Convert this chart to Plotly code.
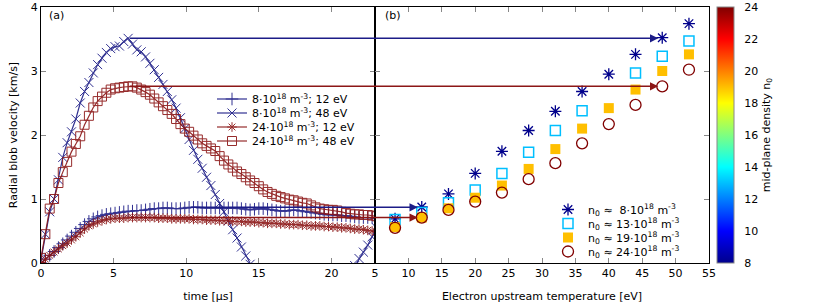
import plotly.graph_objects as go
from plotly.subplots import make_subplots

# ---------------- data: panel (a) ----------------
t_us = [0.0, 0.3, 0.6, 0.9, 1.2, 1.5, 1.8, 2.1, 2.4, 2.7,
        3.0, 3.3, 3.6, 3.9, 4.2, 4.5, 4.8, 5.1, 5.4, 5.7,
        6.0, 6.3, 6.6, 6.9, 7.2, 7.5, 7.8, 8.1, 8.4, 8.7,
        9.0, 9.3, 9.6, 9.9, 10.2, 10.5, 10.8, 11.1, 11.4, 11.7,
        12.0, 12.3, 12.6, 12.9, 13.2, 13.5, 13.8, 14.1, 14.4, 14.7,
        15.0, 15.3, 15.6, 15.9, 16.2, 16.5, 16.8, 17.1, 17.4, 17.7,
        18.0, 18.3, 18.6, 18.9, 19.2, 19.5, 19.8, 20.1, 20.4, 20.7,
        21.0, 21.3, 21.6, 21.9, 22.2, 22.5, 22.8, 23.1]

v_n8_12eV = [0.00, 0.06, 0.12, 0.18, 0.24, 0.30, 0.36, 0.42, 0.48, 0.54,
             0.60, 0.65, 0.69, 0.72, 0.74, 0.76, 0.77, 0.78, 0.79, 0.80,
             0.81, 0.81, 0.82, 0.82, 0.83, 0.84, 0.85, 0.85, 0.86, 0.86,
             0.85, 0.85, 0.85, 0.86, 0.87, 0.87, 0.87, 0.86, 0.86, 0.86,
             0.86, 0.86, 0.86, 0.86, 0.86, 0.86, 0.85, 0.84, 0.83, 0.84,
             0.85, 0.85, 0.84, 0.83, 0.82, 0.81, 0.81, 0.82, 0.83, 0.82,
             0.81, 0.80, 0.79, 0.78, 0.77, 0.76, 0.75, 0.75, 0.75, 0.74,
             0.74, 0.73, 0.72, 0.71, 0.71, 0.71, 0.71, 0.70]

v_n8_48eV = [0.05, 0.45, 0.80, 1.00, 1.30, 1.65, 1.88, 2.05, 2.25, 2.50,
             2.68, 2.82, 2.97, 3.10, 3.20, 3.29, 3.35, 3.38, 3.39, 3.46,
             3.51, 3.42, 3.33, 3.30, 3.22, 3.12, 3.02, 2.90, 2.79, 2.68,
             2.55, 2.42, 2.27, 2.10, 1.93, 1.76, 1.62, 1.48, 1.34, 1.21,
             1.07, 0.93, 0.80, 0.66, 0.52, 0.39, 0.25, 0.11, -0.02, -0.15,
             -0.28, -0.40, -0.52, -0.63, -0.73, -0.82, -0.90, -0.96, -1.00, -1.03,
             -1.04, -1.03, -1.00, -0.95, -0.88, -0.80, -0.71, -0.61, -0.50, -0.39,
             -0.27, -0.15, -0.04, 0.07, 0.17, 0.28, 0.41, 0.55]

v_n24_12eV = [0.00, 0.06, 0.12, 0.17, 0.22, 0.27, 0.31, 0.36, 0.41, 0.47,
              0.53, 0.58, 0.61, 0.64, 0.66, 0.68, 0.69, 0.70, 0.70, 0.70,
              0.71, 0.71, 0.71, 0.71, 0.71, 0.71, 0.71, 0.70, 0.70, 0.70,
              0.69, 0.69, 0.69, 0.69, 0.69, 0.68, 0.68, 0.68, 0.67, 0.67,
              0.67, 0.66, 0.66, 0.66, 0.65, 0.65, 0.65, 0.64, 0.64, 0.64,
              0.63, 0.63, 0.62, 0.62, 0.62, 0.61, 0.61, 0.60, 0.60, 0.60,
              0.59, 0.59, 0.58, 0.58, 0.58, 0.57, 0.57, 0.56, 0.56, 0.55,
              0.55, 0.54, 0.53, 0.53, 0.52, 0.51, 0.50, 0.49]

v_n24_48eV = [0.08, 0.45, 0.85, 1.00, 1.25, 1.42, 1.58, 1.74, 1.86, 1.98,
              2.16, 2.30, 2.43, 2.53, 2.60, 2.66, 2.71, 2.73, 2.74, 2.75,
              2.76, 2.76, 2.74, 2.71, 2.67, 2.63, 2.57, 2.51, 2.45, 2.39,
              2.33, 2.25, 2.17, 2.10, 2.05, 1.99, 1.93, 1.87, 1.83, 1.79,
              1.75, 1.67, 1.60, 1.54, 1.49, 1.43, 1.39, 1.34, 1.29, 1.25,
              1.20, 1.15, 1.11, 1.08, 1.05, 1.03, 1.01, 0.99, 0.98, 0.96,
              0.94, 0.93, 0.90, 0.87, 0.85, 0.84, 0.83, 0.83, 0.82, 0.80,
              0.78, 0.77, 0.76, 0.76, 0.75, 0.75, 0.74, 0.73]

# ---------------- data: panel (b) ----------------
Te_eV = [8, 12, 16, 20, 24, 28, 32, 36, 40, 44, 48, 52]
v_max_n8 = [0.69, 0.875, 1.08, 1.40, 1.745, 2.07, 2.37, 2.68, 2.95, 3.26, 3.52, 3.74]
v_max_n13 = [0.68, 0.79, 0.94, 1.14, 1.40, 1.73, 2.07, 2.38, None, 2.97, 3.23, 3.47]
v_max_n19 = [0.56, 0.71, 0.855, 1.02, 1.21, 1.47, 1.78, 2.10, 2.42, 2.71, 3.00, 3.26]
v_max_n24 = [0.55, 0.71, 0.83, 0.96, 1.10, 1.31, 1.56, 1.87, 2.17, 2.47, 2.76, 3.02]
n0_levels = [8, 13, 19, 24]

t_range = [0, 23]
Te_range = [5, 55]
v_range = [0, 4]
n0_range = [8, 24]

# ---------------- style ----------------
FONT = "DejaVu Sans"
BLUE = "rgb(28,28,135)"
RED = "rgb(140,22,22)"
W, H = 814, 305
ML, MR, MT, MB = 41, 105, 7, 42
PW, PH = W - ML - MR, H - MT - MB

jet = [[0.0, (0, 0, 140)], [0.125, (0, 0, 255)], [0.375, (0, 255, 255)],
       [0.625, (255, 255, 0)], [0.875, (255, 0, 0)], [1.0, (128, 0, 0)]]
jet_scale = [[s, "rgb(%d,%d,%d)" % c] for s, c in jet]


def jet_color(val):
    f = (val - n0_range[0]) / (n0_range[1] - n0_range[0])
    for (s0, c0), (s1, c1) in zip(jet[:-1], jet[1:]):
        if s0 <= f <= s1:
            w = (f - s0) / (s1 - s0)
            return "rgb(%d,%d,%d)" % tuple(round(a + (b - a) * w) for a, b in zip(c0, c1))
    return "rgb(%d,%d,%d)" % jet[-1][1]


fig = make_subplots(rows=1, cols=2, shared_yaxes=True, horizontal_spacing=0)


def legend_y(py):
    return 1 - (py - MT) / PH


def legend_x(px):
    return (px - ML) / PW


LEGFONT = dict(family=FONT, size=11, color="black")

left_series = [
    ("8·10<sup>18</sup> m<sup>-3</sup>; 12 eV", v_n8_12eV, BLUE, "cross-thin-open", 9),
    ("8·10<sup>18</sup> m<sup>-3</sup>; 48 eV", v_n8_48eV, BLUE, "x-thin-open", 9),
    ("24·10<sup>18</sup> m<sup>-3</sup>; 12 eV", v_n24_12eV, RED, "asterisk-open", 8),
    ("24·10<sup>18</sup> m<sup>-3</sup>; 48 eV", v_n24_48eV, RED, "square-open", 9),
]
left_rows = [99.0, 113.0, 127.0, 141.0]
for i, (name, vals, col, sym, sz) in enumerate(left_series):
    lg = "legend" if i == 0 else f"legend{i + 1}"
    fig.add_trace(go.Scatter(
        x=t_us, y=vals, name=name, mode="lines+markers",
        line=dict(color=col, width=1.2),
        marker=dict(symbol=sym, size=sz, color=col, line=dict(width=1, color=col)),
        legend=lg, opacity=0.9), row=1, col=1)
    fig.update_layout(**{lg: dict(
        x=legend_x(212), y=legend_y(left_rows[i]), xanchor="left", yanchor="middle",
        bgcolor="rgba(0,0,0,0)", borderwidth=0, itemwidth=30, font=LEGFONT)})

right_series = [
    ("n<sub>0</sub> ≈  8·10<sup>18</sup> m<sup>-3</sup>", v_max_n8, "asterisk-open", 10, 1.3),
    ("n<sub>0</sub> ≈ 13·10<sup>18</sup> m<sup>-3</sup>", v_max_n13, "square-open", 10, 1.5),
    ("n<sub>0</sub> ≈ 19·10<sup>18</sup> m<sup>-3</sup>", v_max_n19, "square", 10, 0),
    ("n<sub>0</sub> ≈ 24·10<sup>18</sup> m<sup>-3</sup>", v_max_n24, "circle-open", 11, 1.3),
]
right_rows = [209.5, 223.5, 237.5, 251.5]
for i, (name, vals, sym, sz, lw) in enumerate(right_series):
    lg = f"legend{i + 5}"
    col = jet_color(n0_levels[i])
    fig.add_trace(go.Scatter(
        x=Te_eV, y=vals, name=name, mode="markers",
        marker=dict(symbol=sym, size=sz, color=col, line=dict(width=lw, color=col)),
        legend=lg), row=1, col=2)
    fig.update_layout(**{lg: dict(
        x=legend_x(548), y=legend_y(right_rows[i]), xanchor="left", yanchor="middle",
        bgcolor="rgba(0,0,0,0)", borderwidth=0, itemwidth=30, font=LEGFONT)})

# invisible carrier of the n0 colour bar
fig.add_trace(go.Scatter(
    x=[None], y=[None], mode="markers", showlegend=False, hoverinfo="skip",
    marker=dict(color=n0_range, coloraxis="coloraxis")), row=1, col=2)


# arrows from peaks in panel (a) to the corresponding points in panel (b)
def t_to_Te(t):
    # both panels have the same pixel width
    return Te_range[0] + (t - t_range[1]) * (Te_range[1] - Te_range[0]) / (t_range[1] - t_range[0])


for vals, Te_target, col in [(v_n8_48eV, 48, BLUE), (v_n24_48eV, 48, RED),
                             (v_n8_12eV, 12, BLUE), (v_n24_12eV, 12, RED)]:
    vmax = max(vals)
    tpk = t_us[vals.index(vmax)]
    fig.add_annotation(x=Te_target, y=vmax, xref="x2", yref="y2",
                       ax=t_to_Te(tpk), ay=vmax, axref="x2", ayref="y2",
                       text="", showarrow=True, arrowhead=2, arrowsize=1.1,
                       arrowwidth=1.5, arrowcolor=col, standoff=4)

fig.add_annotation(text="(a)", x=0.018, y=0.965, xref="x domain", yref="y domain",
                   xanchor="left", yanchor="middle", showarrow=False, font=LEGFONT)
fig.add_annotation(text="(b)", x=0.024, y=0.965, xref="x2 domain", yref="y2 domain",
                   xanchor="left", yanchor="middle", showarrow=False, font=LEGFONT)

axis_common = dict(showline=True, linecolor="black", linewidth=1, mirror="ticks",
                   ticks="inside", ticklen=5, tickcolor="#888", showgrid=False,
                   zeroline=False, tickfont=LEGFONT, automargin=False)

fig.update_xaxes(**axis_common)
fig.update_yaxes(**axis_common)
fig.update_xaxes(range=t_range, tick0=0, dtick=5, domain=[0, 0.5],
                 title=dict(text="time [µs]", standoff=13, font=LEGFONT), row=1, col=1)
fig.update_xaxes(range=Te_range, tick0=0, dtick=5, domain=[0.5, 1],
                 title=dict(text="Electron upstream temperature [eV]", standoff=13,
                            font=LEGFONT), row=1, col=2)
fig.update_yaxes(range=v_range, dtick=1,
                 title=dict(text="Radial blob velocity [km/s]", standoff=10, font=LEGFONT),
                 row=1, col=1)
fig.update_yaxes(range=v_range, dtick=1, showticklabels=False, row=1, col=2)

fig.update_layout(
    width=W, height=H, margin=dict(l=ML, r=MR, t=MT, b=MB),
    paper_bgcolor="white", plot_bgcolor="white",
    font=dict(family=FONT, size=11, color="black"),
    showlegend=True,
    coloraxis=dict(colorscale=jet_scale, cmin=n0_range[0], cmax=n0_range[1],
                   colorbar=dict(x=1.0, xanchor="left", xpad=8, ypad=0,
                                 y=0.5, yanchor="middle", len=1, lenmode="fraction",
                                 thickness=17, outlinewidth=1, outlinecolor="#888",
                                 tick0=8, dtick=2, ticks="outside", ticklen=8,
                                 tickcolor="rgba(0,0,0,0)",
                                 tickfont=LEGFONT,
                                 title=dict(text="mid-plane density n<sub>0</sub>",
                                            side="right", font=LEGFONT))),
)

fig.write_html("out.html", config={"displayModeBar": False},
               post_script="document.body.style.margin='0';")
